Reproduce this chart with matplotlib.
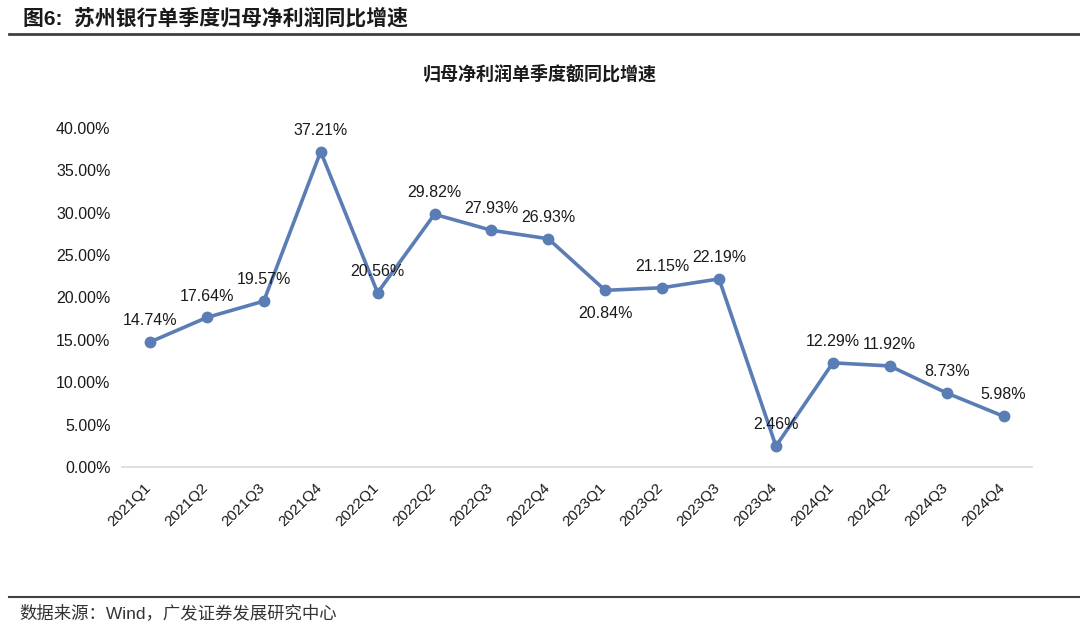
import matplotlib
matplotlib.use("Agg")
import matplotlib.pyplot as plt
from matplotlib.transforms import ScaledTranslation

plt.rcParams['font.family'] = ['Liberation Sans', 'Noto Sans CJK SC', 'DejaVu Sans']

quarters = ['2021Q1', '2021Q2', '2021Q3', '2021Q4', '2022Q1', '2022Q2', '2022Q3', '2022Q4',
            '2023Q1', '2023Q2', '2023Q3', '2023Q4', '2024Q1', '2024Q2', '2024Q3', '2024Q4']
growth = [14.74, 17.64, 19.57, 37.21, 20.56, 29.82, 27.93, 26.93,
          20.84, 21.15, 22.19, 2.46, 12.29, 11.92, 8.73, 5.98]
# labels drawn below the point
below = ['2023Q1']

line_color = '#5b7db5'

fig = plt.figure(figsize=(10.8, 6.29), dpi=100)
ax = fig.add_axes([0.1125, 0.2576, 0.8431, 0.5389])

x = list(range(len(quarters)))
ax.plot(x, growth, color=line_color, lw=2.6, marker='o', ms=7.5, zorder=3)

for xi, q, v in zip(x, quarters, growth):
    if q in below:
        ax.annotate(f'{v:.2f}%', (xi, v), xytext=(0, -11), textcoords='offset points',
                    ha='center', va='top', fontsize=11.5, color='#1a1a1a')
    else:
        ax.annotate(f'{v:.2f}%', (xi, v), xytext=(0, 10), textcoords='offset points',
                    ha='center', va='bottom', fontsize=11.5, color='#1a1a1a')

ax.set_xlim(-0.5, len(quarters) - 0.5)
ax.set_ylim(0, 40)
ax.set_yticks(range(0, 41, 5))
ax.set_yticklabels([f'{t:.2f}%' for t in range(0, 41, 5)], fontsize=11.5, color='#1a1a1a')
ax.set_xticks(x)
ax.set_xticklabels(quarters, rotation=45, ha='right', rotation_mode='anchor', fontsize=11,
                   color='#1a1a1a')
ax.tick_params(axis='both', length=0, pad=8)
ax.tick_params(axis='x', pad=10)
shift = ScaledTranslation(-6 / 100, 0, fig.dpi_scale_trans)
for lbl in ax.get_xticklabels():
    lbl.set_transform(lbl.get_transform() + shift)
for s in ['top', 'right', 'left']:
    ax.spines[s].set_visible(False)
ax.spines['bottom'].set_color('#d9d9d9')
ax.spines['bottom'].set_linewidth(1.2)

# header
fig.text(0.021, 0.971, '图6:  苏州银行单季度归母净利润同比增速', fontsize=15, fontweight='bold',
         ha='left', va='center', color='#1a1a1a')
fig.add_artist(plt.Line2D([0.008, 1.0], [0.946, 0.946], color='#404040', lw=2))
fig.text(0.5, 0.881, '归母净利润单季度额同比增速', fontsize=13, fontweight='bold',
         ha='center', va='center', color='#1a1a1a')

# footer
fig.add_artist(plt.Line2D([0.008, 1.0], [0.051, 0.051], color='#404040', lw=1.5))
fig.text(0.018, 0.026, '数据来源：Wind，广发证券发展研究中心', fontsize=12.5,
         ha='left', va='center', color='#333333')

fig.savefig('out.png', dpi=100)
